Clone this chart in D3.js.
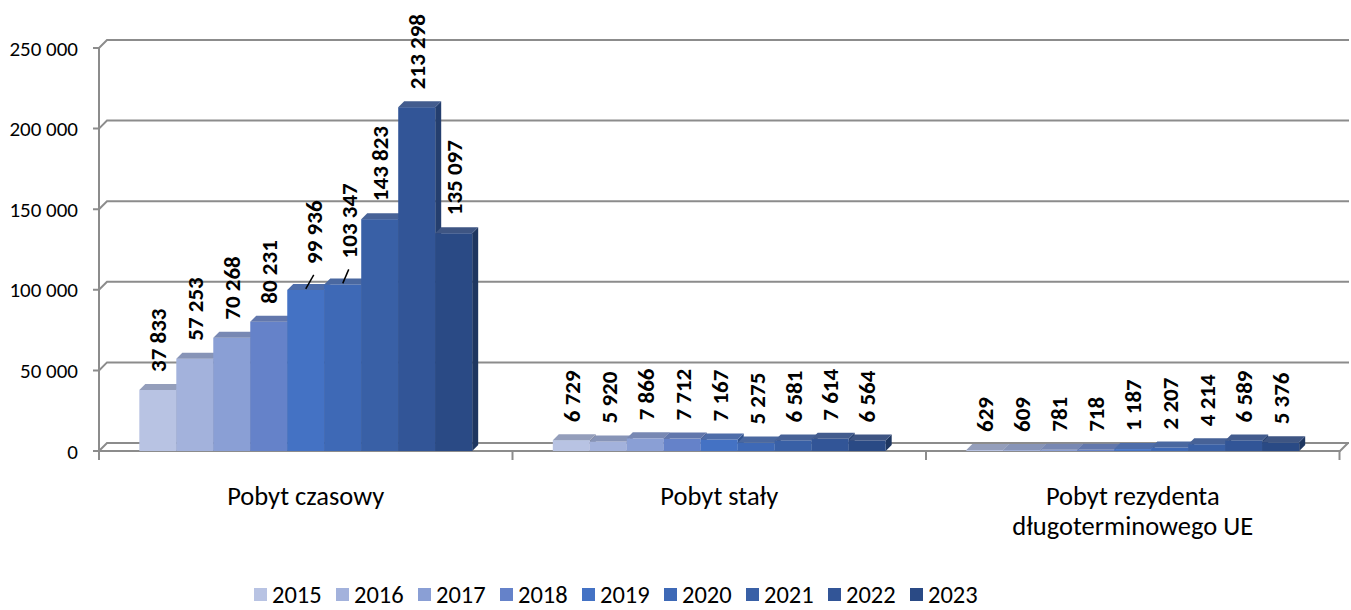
<!DOCTYPE html>
<html>
<head>
<meta charset="utf-8">
<title>Pobyt - wykres</title>
<script src="https://cdn.jsdelivr.net/npm/d3@7"></script>
<style>
  body { margin: 0; background: #fff; }
  svg { display: block; font-family: Carlito, Calibri, Lato, sans-serif; }
</style>
</head>
<body>
<div class="chart"></div>
<script>
// data
var categories = ["Pobyt czasowy", "Pobyt stały", "Pobyt rezydenta długoterminowego UE"];
var categoryLines = [["Pobyt czasowy"], ["Pobyt stały"], ["Pobyt rezydenta", "długoterminowego UE"]];
var years = ["2015", "2016", "2017", "2018", "2019", "2020", "2021", "2022", "2023"];
var pobytCzasowy   = [37833, 57253, 70268, 80231, 99936, 103347, 143823, 213298, 135097];
var pobytStaly     = [6729, 5920, 7866, 7712, 7167, 5275, 6581, 7614, 6564];
var pobytRezydenta = [629, 609, 781, 718, 1187, 2207, 4214, 6589, 5376];
var yTicks = [0, 50000, 100000, 150000, 200000, 250000];
var colors = ["#b8c3e3", "#a3b2dc", "#8a9fd5", "#6582c9", "#4472c4", "#3e69b6", "#3960a6", "#325597", "#2a4a85"];

var series = [pobytCzasowy, pobytStaly, pobytRezydenta];

var width = 1351, height = 610;
var dx = 8, dy = -8;      // wall depth
var bdx = 6, bdy = -6;    // bar depth

var svg = d3.select(".chart").append("svg")
    .attr("width", width)
    .attr("height", height);

var fmt = d3.formatLocale({decimal: ",", thousands: " ", grouping: [3], currency: ["", ""]}).format(",d");

var y = d3.scaleLinear().domain([0, 250000]).range([451, 48]);
var x0 = d3.scaleBand().domain(categories).range([99, 1339.5]);
var x1 = d3.scaleBand().domain(years).range([0, x0.bandwidth()]).paddingInner(0).paddingOuter(1.09);

var grid = svg.append("g")
    .attr("stroke", "#8c8c8c")
    .attr("stroke-width", 2)
    .attr("fill", "none");

// back wall gridlines with their diagonal joins
yTicks.forEach(function(t){
  var yy = y(t);
  grid.append("polyline")
      .attr("points", [[93, yy], [99, yy], [99 + dx, yy + dy], [1349, yy + dy]].join(" "));
});
// floor front edge
grid.append("polyline")
    .attr("points", [[99, 451], [1340, 451], [1340 + dx, 451 + dy]].join(" "));
// left axis
grid.append("line").attr("x1", 99).attr("x2", 99).attr("y1", y(250000)).attr("y2", 460);
// category ticks
x0.domain().forEach(function(c){
  var xx = x0(c) + x0.bandwidth();
  grid.append("line").attr("x1", xx).attr("x2", xx).attr("y1", 451).attr("y2", 460);
});

// y tick labels
svg.append("g").selectAll("text")
    .data(yTicks)
    .enter().append("text")
    .attr("x", 78)
    .attr("y", function(d){ return y(d); })
    .attr("dy", "0.36em")
    .attr("text-anchor", "end")
    .attr("font-size", 21)
    .attr("fill", "#000")
    .text(function(d){ return fmt(d); });

// bars
var leaderShift = {"0-2019": [8, 8], "0-2020": [6, 8]};

categories.forEach(function(cat, ci){
  var g = svg.append("g");
  var labels = svg.append("g");
  years.forEach(function(yr, i){
    var v = series[ci][i];
    var x = x0(cat) + x1(yr), w = x1.bandwidth();
    var top = y(v), base = y(0);
    var c = colors[i];
    var topCol = d3.interpolateRgb(c, "#5d6680")(0.4);
    var sideCol = d3.color(c).darker(0.9);

    g.append("polygon")
        .attr("points", [[x + w, top], [x + w + bdx, top + bdy], [x + w + bdx, base + bdy], [x + w, base]].join(" "))
        .attr("fill", sideCol);
    g.append("rect")
        .attr("x", x).attr("y", top)
        .attr("width", w).attr("height", base - top)
        .attr("fill", c);
    g.append("polygon")
        .attr("points", [[x, top], [x + bdx, top + bdy], [x + w + bdx, top + bdy], [x + w, top]].join(" "))
        .attr("fill", topCol);

    var cx = x + w / 2, ly = top - 18;
    var sh = leaderShift[ci + "-" + yr];
    if (sh) {
      labels.append("line")
          .attr("x1", cx).attr("y1", top - 1)
          .attr("x2", cx + sh[0]).attr("y2", top - 15)
          .attr("stroke", "#000").attr("stroke-width", 1.5);
      cx += sh[0];
      ly -= sh[1];
    }
    labels.append("text")
        .attr("transform", "translate(" + cx + "," + ly + ") rotate(-90)")
        .attr("dy", "0.36em")
        .attr("font-size", 23)
        .attr("font-weight", "bold")
        .attr("fill", "#000")
        .text(fmt(v));
  });
});

// category labels
svg.append("g").selectAll("text")
    .data(categories)
    .enter().append("text")
    .attr("x", function(d){ return x0(d) + x0.bandwidth() / 2; })
    .attr("y", 505)
    .attr("text-anchor", "middle")
    .attr("font-size", 26.5)
    .attr("fill", "#000")
    .each(function(d, i){
      var t = d3.select(this);
      categoryLines[i].forEach(function(line, k){
        t.append("tspan")
            .attr("x", x0(d) + x0.bandwidth() / 2)
            .attr("dy", k === 0 ? 0 : 30)
            .text(line);
      });
    });

// legend
var lx = d3.scaleBand().domain(years).range([254, 254 + 82 * years.length]);
var leg = svg.append("g").selectAll("g")
    .data(years)
    .enter().append("g")
    .attr("transform", function(d){ return "translate(" + lx(d) + ",588)"; });
leg.append("rect")
    .attr("width", 13).attr("height", 13)
    .attr("fill", function(d, i){ return colors[i]; });
leg.append("text")
    .attr("x", 18).attr("y", 6.5)
    .attr("dy", "0.36em")
    .attr("font-size", 24.5)
    .attr("fill", "#000")
    .text(function(d){ return d; });
</script>
</body>
</html>
